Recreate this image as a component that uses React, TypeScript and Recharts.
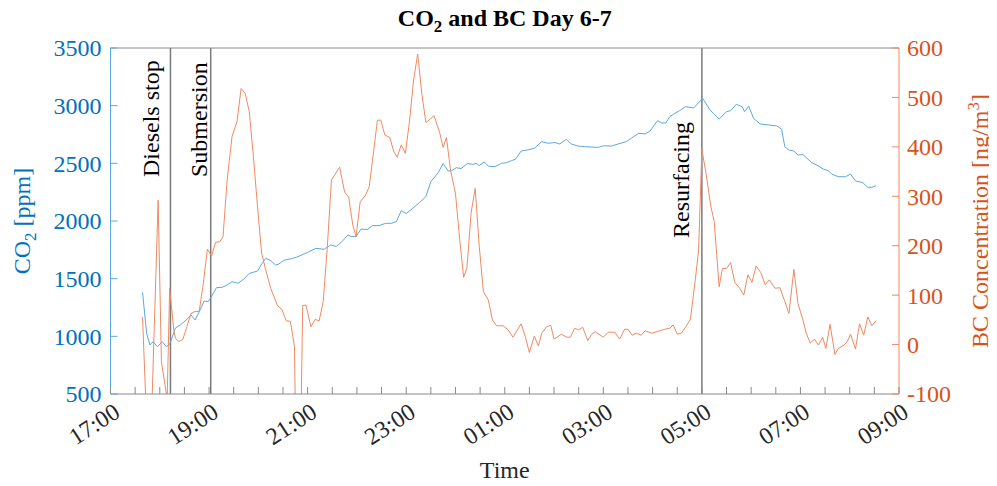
import React from 'react';
import { LineChart, Line, XAxis, YAxis, ReferenceLine } from 'recharts';

// minutes after 17:00 -> CO2 [ppm]
const co2Times = [
  39, 44, 48, 52, 57, 63, 68, 72, 77, 79, 85, 92, 98, 103, 108, 114, 119, 124, 129, 136,
  142, 148, 155, 161, 169, 179, 184, 189, 195, 201, 205, 211, 220, 228, 240, 250, 260, 268, 275, 281,
  289, 293, 299, 305, 313, 319, 327, 335, 342, 348, 354, 360, 368, 376, 384, 390, 399, 405, 411, 415,
  421, 427, 435, 441, 445, 449, 455, 460, 468, 476, 482, 488, 493, 500, 508, 516, 525, 533, 541, 547,
  555, 561, 569, 577, 594, 600, 610, 618, 628, 634, 643, 651, 657, 666, 671, 676, 681, 687, 693, 700,
  710, 721, 730, 741, 750, 755, 762, 769, 772, 777, 783, 791, 801, 811, 817, 821, 826, 832, 837, 843,
  848, 854, 862, 868, 874, 878, 886, 895, 901, 907, 916, 922, 927, 932,
];
const co2Values = [
  1382, 1026, 925, 953, 910, 953, 910, 930, 1030, 1072, 1098, 1141, 1185, 1141, 1213, 1306, 1300, 1358, 1422, 1425,
  1445, 1474, 1460, 1488, 1546, 1566, 1627, 1676, 1657, 1618, 1627, 1660, 1673, 1690, 1728, 1763, 1755, 1792, 1780, 1815,
  1878, 1865, 1865, 1930, 1927, 1960, 1960, 1980, 1980, 1994, 2090, 2065, 2110, 2159, 2211, 2341, 2419, 2500, 2433, 2436,
  2462, 2455, 2500, 2490, 2500, 2480, 2514, 2475, 2471, 2500, 2505, 2523, 2535, 2607, 2617, 2630, 2688, 2674, 2680, 2668,
  2708, 2668, 2650, 2645, 2638, 2652, 2650, 2668, 2688, 2717, 2760, 2755, 2780, 2870, 2850, 2850, 2905, 2933, 2957, 2991,
  2980, 3063, 2962, 2884, 2948, 2957, 3012, 2991, 2948, 2996, 2890, 2841, 2833, 2825, 2797, 2644, 2615, 2607, 2572, 2577,
  2543, 2505, 2477, 2450, 2436, 2407, 2384, 2384, 2407, 2347, 2332, 2292, 2292, 2306,
];

// minutes after 17:00 -> BC [ng/m3]
const bcTimes = [
  39, 45, 49, 58, 62, 69, 72, 77, 79, 83, 88, 93, 98, 103, 108, 113, 118, 123, 128, 133,
  137, 142, 148, 154, 159, 164, 169, 174, 179, 184, 189, 195, 203, 209, 214, 219, 224, 226, 231, 234,
  238, 244, 249, 254, 259, 264, 269, 279, 285, 290, 295, 299, 304, 310, 315, 319, 325, 329, 334, 340,
  345, 349, 354, 359, 364, 369, 374, 379, 384, 394, 401, 405, 409, 414, 420, 425, 430, 434, 439, 444,
  449, 454, 460, 465, 470, 478, 484, 490, 500, 505, 510, 516, 521, 525, 531, 536, 540, 549, 555, 560,
  565, 570, 575, 581, 586, 590, 600, 606, 614, 620, 626, 630, 635, 640, 646, 651, 659, 667, 675, 681,
  685, 690, 695, 700, 706, 712, 716, 720, 725, 731, 735, 741, 745, 750, 755, 760, 766, 771, 776, 781,
  786, 792, 797, 802, 809, 815, 821, 826, 832, 837, 843, 847, 852, 857, 862, 867, 871, 876, 882, 886,
  893, 897, 901, 907, 912, 917, 922, 927, 932,
];
const bcValues = [
  56, -200, -200, 292, -35, -110, 114, 30, 13, 6, 10, 36, 63, 67, 67, 124, 193, 179, 207, 208,
  218, 333, 421, 451, 518, 508, 471, 380, 279, 185, 151, 114, 80, 70, 48, 47, -4, -250, -250, 79,
  80, 36, 51, 48, 87, 198, 333, 359, 309, 298, 242, 218, 289, 301, 319, 373, 454, 454, 424, 419,
  390, 379, 404, 387, 451, 535, 588, 508, 449, 463, 427, 399, 419, 353, 306, 215, 136, 156, 266, 316,
  198, 107, 90, 50, 38, 38, 30, 15, 42, 16, -16, 17, -3, 23, 36, 39, 11, 21, 15, 15,
  33, 30, 35, 8, 21, 26, 15, 25, 25, 11, 31, 31, 19, 23, 19, 28, 23, 27, 31, 33,
  40, 21, 23, 35, 51, 131, 191, 394, 347, 279, 249, 117, 154, 154, 166, 126, 114, 100, 141, 126,
  159, 145, 121, 131, 114, 115, 87, 63, 152, 83, 50, 23, 3, 11, -1, 15, -8, 41, -20, -8,
  -1, 6, 21, -9, 42, 19, 56, 38, 48,
];

const timeTicks = Array.from({ length: 33 }, (_, i) => i * 30);
const co2Ticks = [500, 1000, 1500, 2000, 2500, 3000, 3500];
const bcTicks = [-100, 0, 100, 200, 300, 400, 500, 600];

const events = [
  { t: 73, label: 'Diesels stop', dx: -11, bottom: 129 },
  { t: 122, label: 'Submersion', dx: -3.5, bottom: 129 },
  { t: 720, label: 'Resurfacing', dx: -12.5, bottom: 190 },
];

const co2Data = co2Times.map((t, i) => ({ t, v: co2Values[i] }));
const bcData = bcTimes.map((t, i) => ({ t, v: bcValues[i] }));

const FONT = '"Liberation Serif", "Times New Roman", serif';
const BLUE = '#0072BD';
const ORANGE = '#D95319';
const BLUE_LINE = '#5AA9E0';
const ORANGE_LINE = '#EE8A63';
const AX_GREY = '#8a8a8a';

const W = 989;
const H = 478;
const PLOT = { left: 102.5, right: 891, top: 40, bottom: 386 };

const fmtTime = (m: number) => {
  const h = (17 + Math.round(m / 60)) % 24;
  return `${String(h).padStart(2, '0')}:00`;
};

const BottomTick = (props: any) => {
  const { x, y, payload } = props;
  const show = payload.value % 120 === 0;
  const ax = x + 11;
  const ay = y + 22;
  return (
    <g>
      <line x1={x} x2={x} y1={y} y2={y - 7} stroke={AX_GREY} />
      {show && (
        <text x={ax} y={ay} transform={`rotate(-33 ${ax} ${ay})`} textAnchor="end" fontSize={24} fontFamily={FONT} fill="#262626">
          {fmtTime(payload.value)}
        </text>
      )}
    </g>
  );
};

const TopTick = (props: any) => {
  const { x, y } = props;
  return <line x1={x} x2={x} y1={y} y2={y + 7} stroke={AX_GREY} />;
};

const LeftTick = (props: any) => {
  const { x, y, payload } = props;
  return (
    <g>
      <line x1={x} x2={x + 7} y1={y} y2={y} stroke={BLUE_LINE} />
      <text x={x - 9} y={y} dy="0.35em" textAnchor="end" fontSize={24} fontFamily={FONT} fill={BLUE}>
        {payload.value}
      </text>
    </g>
  );
};

const RightTick = (props: any) => {
  const { x, y, payload } = props;
  return (
    <g>
      <line x1={x} x2={x - 7} y1={y} y2={y} stroke={ORANGE_LINE} />
      <text x={x + 8} y={y} dy="0.35em" textAnchor="start" fontSize={24} fontFamily={FONT} fill={ORANGE}>
        {payload.value}
      </text>
    </g>
  );
};

const EventLabel = (props: any) => {
  const { viewBox, text, dx, bottom } = props;
  if (!viewBox) return null;
  const x = viewBox.x + dx;
  const y = viewBox.y + bottom;
  return (
    <text x={x} y={y} transform={`rotate(-90 ${x} ${y})`} textAnchor="start" fontSize={24} fontFamily={FONT} fill="#000">
      {text}
    </text>
  );
};

export default function App() {
  // overlay svg covers the whole page (offset by the 8px body margin)
  const midX = (PLOT.left + PLOT.right) / 2 + 8;
  const midY = (PLOT.top + PLOT.bottom) / 2 + 8;
  return (
    <div style={{ position: 'relative', width: W, height: H, background: '#fff' }}>
      <LineChart
        width={W}
        height={H}
        margin={{ top: 30, right: 38, left: 42.5, bottom: 32 }}
      >
        <XAxis
          xAxisId="bottom"
          dataKey="t"
          type="number"
          domain={[0, 960]}
          ticks={timeTicks}
          interval={0}
          allowDataOverflow
          height={60}
          stroke={AX_GREY}
          tickLine={false}
          tickSize={0}
          tickMargin={0}
          tick={<BottomTick />}
        />
        <XAxis
          xAxisId="top"
          orientation="top"
          dataKey="t"
          type="number"
          domain={[0, 960]}
          ticks={timeTicks}
          interval={0}
          height={10}
          stroke={AX_GREY}
          tickLine={false}
          tickSize={0}
          tickMargin={0}
          tick={<TopTick />}
        />
        <YAxis
          yAxisId="co2"
          type="number"
          domain={[500, 3500]}
          ticks={co2Ticks}
          interval={0}
          allowDataOverflow
          width={60}
          stroke={BLUE_LINE}
          tickLine={false}
          tickSize={0}
          tickMargin={0}
          tick={<LeftTick />}
        />
        <YAxis
          yAxisId="bc"
          orientation="right"
          type="number"
          domain={[-100, 600]}
          ticks={bcTicks}
          interval={0}
          allowDataOverflow
          width={60}
          stroke={ORANGE_LINE}
          tickLine={false}
          tickSize={0}
          tickMargin={0}
          tick={<RightTick />}
        />
        {events.map((e) => (
          <ReferenceLine
            key={e.label}
            x={e.t}
            xAxisId="bottom"
            yAxisId="co2"
            stroke="#7a7a7a"
            strokeWidth={1.5}
            label={<EventLabel text={e.label} dx={e.dx} bottom={e.bottom} />}
          />
        ))}
        <Line
          data={co2Data}
          dataKey="v"
          xAxisId="bottom"
          yAxisId="co2"
          stroke={BLUE_LINE}
          strokeWidth={1}
          dot={false}
          activeDot={false}
          isAnimationActive={false}
        />
        <Line
          data={bcData}
          dataKey="v"
          xAxisId="bottom"
          yAxisId="bc"
          stroke={ORANGE_LINE}
          strokeWidth={1}
          dot={false}
          activeDot={false}
          isAnimationActive={false}
        />
      </LineChart>
      <svg
        width={997}
        height={486}
        style={{ position: 'absolute', left: -8, top: -8, pointerEvents: 'none' }}
        fontFamily={FONT}
      >
        <text x={midX} y={26} textAnchor="middle" fontSize={24} fontWeight="bold" fill="#000">
          CO<tspan dy={6} fontSize={17}>2</tspan>
          <tspan dy={-6}> and BC Day 6-7</tspan>
        </text>
        <text x={midX} y={478} textAnchor="middle" fontSize={24} fill="#262626">
          Time
        </text>
        <text x={29.5} y={midY} transform={`rotate(-90 29.5 ${midY})`} textAnchor="middle" fontSize={24} fill={BLUE}>
          CO<tspan dy={6} fontSize={17}>2</tspan>
          <tspan dy={-6}> [ppm]</tspan>
        </text>
        <text x={987.5} y={midY} transform={`rotate(-90 987.5 ${midY})`} textAnchor="middle" fontSize={24} fill={ORANGE}>
          BC Concentration [ng/m<tspan dy={-9} fontSize={17}>3</tspan>
          <tspan dy={9}>]</tspan>
        </text>
      </svg>
    </div>
  );
}
